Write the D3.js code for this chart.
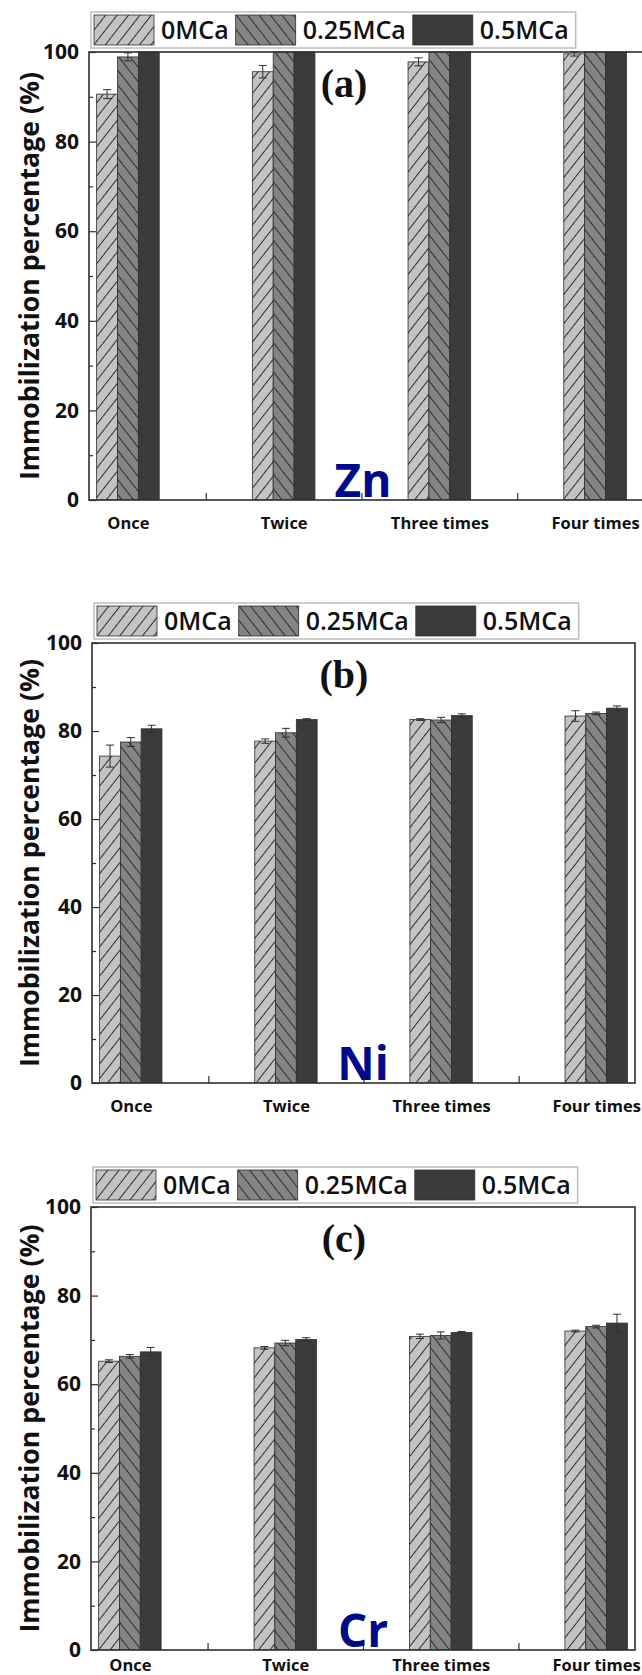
<!DOCTYPE html>
<html>
<head>
<meta charset="utf-8">
<script src="https://cdn.jsdelivr.net/npm/d3@7"></script>
<style>
  body { margin: 0; background: #fff; }
  svg { display: block; }
  text { font-family: "Open Sans", "Noto Sans", sans-serif; }
</style>
</head>
<body>
<svg id="chart" width="642" height="1675"></svg>
<script>
// ---- data -------------------------------------------------------------
const categories = ["Once", "Twice", "Three times", "Four times"];
const seriesNames = ["0MCa", "0.25MCa", "0.5MCa"];
const yTicks = [0, 20, 40, 60, 80, 100];
const yMinorTicks = [10, 30, 50, 70, 90];

// (a) Zn immobilization, mean and error
const zn0MCa = [90.6, 95.6, 97.8, 99.6];
const zn0MCaErr = [1.0, 1.4, 0.9, 0.5];
const zn025MCa = [98.9, 100, 100, 100];
const zn025MCaErr = [0.9, 0, 0, 0];
const zn05MCa = [100, 100, 100, 100];
const zn05MCaErr = [0, 0, 0, 0];

// (b) Ni immobilization
const ni0MCa = [74.3, 77.7, 82.6, 83.4];
const ni0MCaErr = [2.5, 0.5, 0.2, 1.2];
const ni025MCa = [77.5, 79.6, 82.5, 84.0];
const ni025MCaErr = [1.0, 1.0, 0.6, 0.3];
const ni05MCa = [80.5, 82.6, 83.5, 85.2];
const ni05MCaErr = [0.8, 0.2, 0.4, 0.5];

// (c) Cr immobilization
const cr0MCa = [65.2, 68.2, 70.8, 72.0];
const cr0MCaErr = [0.3, 0.3, 0.5, 0.2];
const cr025MCa = [66.3, 69.3, 71.0, 73.0];
const cr025MCaErr = [0.4, 0.6, 0.8, 0.3];
const cr05MCa = [67.3, 70.1, 71.7, 73.8];
const cr05MCaErr = [1.0, 0.4, 0.2, 2.0];

// ---- layout -----------------------------------------------------------
const panels = [
  { tag: "(a)", element: "Zn", means: [zn0MCa, zn025MCa, zn05MCa], errs: [zn0MCaErr, zn025MCaErr, zn05MCaErr],
    top: 52, bottom: 500, left: 89, right: 634, frameRight: 648, labelPad: 17 },
  { tag: "(b)", element: "Ni", means: [ni0MCa, ni025MCa, ni05MCa], errs: [ni0MCaErr, ni025MCaErr, ni05MCaErr],
    top: 643, bottom: 1083, left: 92, right: 635, frameRight: 635, labelPad: 17 },
  { tag: "(c)", element: "Cr", means: [cr0MCa, cr025MCa, cr05MCa], errs: [cr0MCaErr, cr025MCaErr, cr05MCaErr],
    top: 1207, bottom: 1650, left: 91, right: 635, frameRight: 635, labelPad: 9 }
];

const fills = ["url(#hatchRight)", "url(#hatchLeft)", "#3b3b3b"];
const ink = "#2e2e2e";
const barWidthUnits = 0.134;

const svg = d3.select("#chart");
const defs = svg.append("defs");

// diagonal hatching: "/" on light grey, "\" on mid grey
function hatch(id, bg, angle) {
  const p = defs.append("pattern")
    .attr("id", id)
    .attr("patternUnits", "userSpaceOnUse")
    .attr("width", 9).attr("height", 9)
    .attr("patternTransform", `rotate(${angle})`);
  p.append("rect").attr("width", 9).attr("height", 9).attr("fill", bg);
  p.append("line").attr("x1", -1).attr("x2", 10).attr("y1", 4.5).attr("y2", 4.5)
    .attr("stroke", ink).attr("stroke-width", 1);
}
hatch("hatchRight", "#c3c3c3", -52);
hatch("hatchLeft", "#848484", 52);

panels.forEach((pn, pi) => {
  const g = svg.append("g");
  const x = d3.scaleLinear().domain([0.75, 4.25]).range([pn.left, pn.right]);
  const y = d3.scaleLinear().domain([0, 100]).range([pn.bottom, pn.top]);
  const bw = x(1 + barWidthUnits) - x(1);

  const clipId = "clip" + pi;
  defs.append("clipPath").attr("id", clipId)
    .append("rect").attr("x", pn.left).attr("y", pn.top - 1)
    .attr("width", pn.frameRight - pn.left).attr("height", pn.bottom - pn.top + 1);

  const plot = g.append("g").attr("clip-path", `url(#${clipId})`);

  // bars
  seriesNames.forEach((s, si) => {
    const rows = categories.map((c, ci) => ({ ci, v: pn.means[si][ci], e: pn.errs[si][ci] }));
    const offset = (si - 1) * barWidthUnits;
    plot.selectAll(null).data(rows).enter().append("rect")
      .attr("x", d => x(d.ci + 1 + offset) - bw / 2)
      .attr("y", d => y(d.v))
      .attr("width", bw)
      .attr("height", d => y(0) - y(d.v))
      .attr("fill", fills[si])
      .attr("stroke", ink).attr("stroke-width", 0.8);

    // error bars
    const eb = plot.selectAll(null).data(rows.filter(d => d.e > 0)).enter().append("g")
      .attr("stroke", ink).attr("stroke-width", 1);
    eb.append("line")
      .attr("x1", d => x(d.ci + 1 + offset)).attr("x2", d => x(d.ci + 1 + offset))
      .attr("y1", d => y(d.v - d.e)).attr("y2", d => y(d.v + d.e));
    [-1, 1].forEach(sign => {
      eb.append("line")
        .attr("x1", d => x(d.ci + 1 + offset) - 4).attr("x2", d => x(d.ci + 1 + offset) + 4)
        .attr("y1", d => y(d.v + sign * d.e)).attr("y2", d => y(d.v + sign * d.e));
    });
  });

  // frame
  g.append("rect")
    .attr("x", pn.left).attr("y", pn.top)
    .attr("width", pn.frameRight - pn.left).attr("height", pn.bottom - pn.top)
    .attr("fill", "none").attr("stroke", ink).attr("stroke-width", 1.6);

  // y axis: major ticks pointing inward with labels, minor ticks inward
  const yAxis = g.append("g").attr("transform", `translate(${pn.left},0)`)
    .call(d3.axisLeft(y).tickValues(yTicks).tickSizeInner(-7).tickSizeOuter(0).tickPadding(10));
  yAxis.select(".domain").remove();
  yAxis.selectAll("line").attr("stroke", ink).attr("stroke-width", 1.2);
  yAxis.selectAll("text").attr("font-size", 21).attr("font-weight", 700).attr("fill", "#111");

  const yMinor = g.append("g").attr("transform", `translate(${pn.left},0)`)
    .call(d3.axisLeft(y).tickValues(yMinorTicks).tickSizeInner(-4).tickSizeOuter(0).tickFormat(""));
  yMinor.select(".domain").remove();
  yMinor.selectAll("line").attr("stroke", ink).attr("stroke-width", 1.2);

  // x axis: category names, and inward ticks between groups
  const xAxis = g.append("g").attr("transform", `translate(0,${pn.bottom})`)
    .call(d3.axisBottom(x).tickValues([1, 2, 3, 4]).tickSize(0).tickPadding(pn.labelPad)
      .tickFormat(d => categories[d - 1]));
  xAxis.select(".domain").remove();
  xAxis.selectAll("text").attr("font-size", 16.5).attr("font-weight", 700).attr("fill", "#111");

  const xSep = g.append("g").attr("transform", `translate(0,${pn.bottom})`)
    .call(d3.axisBottom(x).tickValues([1.5, 2.5, 3.5]).tickSizeInner(-7).tickSizeOuter(0).tickFormat(""));
  xSep.select(".domain").remove();
  xSep.selectAll("line").attr("stroke", ink).attr("stroke-width", 1.2);

  // y axis title
  g.append("text")
    .attr("transform", `translate(29,${(pn.top + pn.bottom) / 2}) rotate(-90)`)
    .attr("text-anchor", "middle").attr("dominant-baseline", "central")
    .attr("font-size", 26).attr("font-weight", 700).attr("fill", "#111")
    .attr("textLength", 408).attr("lengthAdjust", "spacingAndGlyphs")
    .text("Immobilization percentage (%)");

  // panel tag
  g.append("text")
    .attr("x", 344).attr("y", pn.top + 45)
    .attr("text-anchor", "middle")
    .style("font-family", "'Liberation Serif', 'Times New Roman', serif")
    .attr("font-size", 40).attr("font-weight", 700).attr("fill", "#111")
    .text(pn.tag);

  // element symbol
  g.append("text")
    .attr("x", 363).attr("y", pn.bottom - 3)
    .attr("text-anchor", "middle")
    .attr("font-size", 46).attr("font-weight", 700).attr("fill", "#000a8a")
    .text(pn.element);

  // legend
  const lg = g.append("g").attr("transform", `translate(${pn.left + 2},${pn.top - 40})`);
  const box = lg.append("rect").attr("height", 36).attr("fill", "#fff")
    .attr("stroke", "#bdbdbd").attr("stroke-width", 1.5);
  let cx = 3;
  seriesNames.forEach((s, si) => {
    lg.append("rect").attr("x", cx).attr("y", 3).attr("width", 60).attr("height", 30)
      .attr("fill", fills[si]).attr("stroke", ink).attr("stroke-width", 0.8);
    const t = lg.append("text").attr("x", cx + 67).attr("y", 27)
      .attr("font-size", 25).attr("font-weight", 600).attr("fill", "#111").text(s);
    cx += 67 + t.node().getComputedTextLength() + 7;
  });
  box.attr("width", cx);
});
</script>
</body>
</html>
